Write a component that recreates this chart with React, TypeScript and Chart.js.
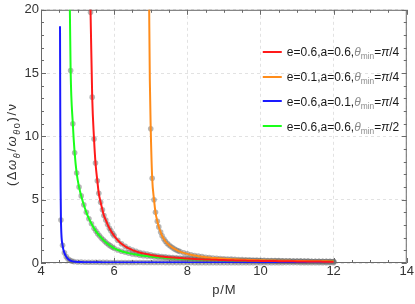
import React, { useEffect, useRef } from "react";
import { Chart, registerables } from "chart.js";

Chart.register(...registerables);

const FONT = "'Liberation Sans', Arial, sans-serif";

const X_MIN = 4;
const X_MAX = 14;
const Y_MIN = 0;
const Y_MAX = 20;
const X_TICKS = [4, 6, 8, 10, 12, 14];
const Y_TICKS = [0, 5, 10, 15, 20];

// shared x grid of the dense tail
const TAIL_X = [6.0, 6.1, 6.2, 6.3, 6.4, 6.5, 6.6, 6.7, 6.8, 6.9, 7.0, 7.1, 7.2, 7.3, 7.4, 7.5, 7.6, 7.7, 7.8, 7.9, 8.0, 8.1, 8.2, 8.3, 8.4, 8.5, 8.6, 8.7, 8.8, 8.9, 9.0, 9.1, 9.2, 9.3, 9.4, 9.5, 9.6, 9.7, 9.8, 9.9, 10.0, 10.1, 10.2, 10.3, 10.4, 10.5, 10.6, 10.7, 10.8, 10.9, 11.0, 11.1, 11.2, 11.3, 11.4, 11.5, 11.6, 11.7, 11.8, 11.9, 12.0];

// red: e=0.6, a=0.6, θmin=π/4
const RED_LINE_X = [5.345];
const RED_LINE_Y = [21.0];
const RED_HEAD_X = [5.355, 5.4, 5.45, 5.49, 5.54, 5.58, 5.63, 5.68, 5.72, 5.77, 5.82, 5.87, 5.91, 5.96];
const RED_HEAD_Y = [19.8, 13.1, 9.8, 7.9, 6.5, 5.5, 4.8, 4.2, 3.75, 3.4, 3.05, 2.75, 2.55, 2.32];
const RED_TAIL_Y = [2.15, 1.8, 1.52, 1.32, 1.15, 1.02, 0.92, 0.83, 0.76, 0.7, 0.64, 0.59, 0.55, 0.51, 0.48, 0.45, 0.43, 0.41, 0.39, 0.37, 0.35, 0.335, 0.32, 0.305, 0.29, 0.28, 0.27, 0.26, 0.25, 0.24, 0.23, 0.222, 0.214, 0.207, 0.2, 0.194, 0.188, 0.182, 0.177, 0.172, 0.167, 0.162, 0.157, 0.153, 0.149, 0.145, 0.141, 0.137, 0.134, 0.131, 0.128, 0.125, 0.122, 0.119, 0.116, 0.113, 0.111, 0.108, 0.106, 0.104, 0.102];

// orange: e=0.1, a=0.6, θmin=π/4
const ORANGE_LINE_X = [6.955, 6.975];
const ORANGE_LINE_Y = [20.8, 14.5];
const ORANGE_HEAD_X = [7.0, 7.04, 7.09, 7.13, 7.18, 7.22, 7.27, 7.31, 7.36, 7.4, 7.45, 7.5, 7.55, 7.6, 7.65, 7.7, 7.75];
const ORANGE_HEAD_Y = [10.6, 6.7, 5.0, 4.0, 3.3, 2.85, 2.45, 2.15, 1.9, 1.72, 1.55, 1.42, 1.3, 1.2, 1.11, 1.03, 0.96];
const ORANGE_TAIL_Y = [0.9, 0.8, 0.72, 0.65, 0.59, 0.54, 0.5, 0.46, 0.43, 0.4, 0.38, 0.36, 0.34, 0.32, 0.305, 0.29, 0.277, 0.265, 0.254, 0.244, 0.235, 0.226, 0.218, 0.21, 0.203, 0.196, 0.19, 0.184, 0.178, 0.173, 0.168, 0.163, 0.158, 0.154, 0.15, 0.146, 0.142, 0.139, 0.136, 0.133, 0.13, 0.127, 0.124];

// blue: e=0.6, a=0.1, θmin=π/4
const BLUE_LINE_X = [4.52, 4.527, 4.536];
const BLUE_LINE_Y = [18.7, 11.5, 6.0];
const BLUE_HEAD_X = [4.545, 4.59, 4.64, 4.69, 4.74, 4.79, 4.84, 4.9, 5.0, 5.1, 5.2, 5.3, 5.4, 5.5, 5.6, 5.7, 5.8, 5.9];
const BLUE_HEAD_Y = [3.4, 1.4, 0.8, 0.5, 0.32, 0.21, 0.15, 0.11, 0.08, 0.07, 0.065, 0.06, 0.057, 0.054, 0.051, 0.049, 0.047, 0.045];
const BLUE_TAIL_Y = [0.044, 0.043, 0.042, 0.041, 0.04, 0.039, 0.038, 0.037, 0.036, 0.036, 0.035, 0.034, 0.034, 0.033, 0.032, 0.032, 0.031, 0.031, 0.03, 0.03, 0.029, 0.029, 0.028, 0.028, 0.027, 0.027, 0.027, 0.026, 0.026, 0.026, 0.025, 0.025, 0.025, 0.024, 0.024, 0.024, 0.023, 0.023, 0.023, 0.023, 0.022, 0.022, 0.022, 0.021, 0.021, 0.021, 0.021, 0.02, 0.02, 0.02, 0.02, 0.019, 0.019, 0.019, 0.019, 0.019, 0.018, 0.018, 0.018, 0.018, 0.018];

// green: e=0.6, a=0.6, θmin=π/2
const GREEN_LINE_X = [4.787];
const GREEN_LINE_Y = [20.6];
const GREEN_HEAD_X = [4.81, 4.87, 4.92, 4.975, 5.04, 5.1, 5.17, 5.24, 5.31, 5.38, 5.45, 5.5, 5.55, 5.6, 5.65, 5.7, 5.75, 5.8, 5.85, 5.9, 5.95];
const GREEN_HEAD_Y = [15.2, 11.0, 8.7, 7.1, 6.0, 5.3, 4.6, 4.0, 3.5, 3.1, 2.75, 2.52, 2.32, 2.15, 1.98, 1.83, 1.69, 1.56, 1.45, 1.35, 1.25];
const GREEN_TAIL_Y = [1.16, 1.03, 0.93, 0.85, 0.78, 0.72, 0.67, 0.62, 0.58, 0.545, 0.51, 0.48, 0.455, 0.43, 0.41, 0.39, 0.37, 0.355, 0.34, 0.325, 0.31, 0.3, 0.29, 0.28, 0.27, 0.26, 0.25, 0.242, 0.234, 0.227, 0.22, 0.213, 0.207, 0.201, 0.195, 0.19, 0.185, 0.18, 0.175, 0.171, 0.167, 0.163, 0.159, 0.155, 0.151, 0.148, 0.145, 0.142, 0.139, 0.136, 0.133, 0.13, 0.127, 0.125, 0.122, 0.12, 0.118, 0.116, 0.114, 0.112, 0.11];

const LEGEND_E = ["0.6", "0.1", "0.6", "0.6"];
const LEGEND_A = ["0.6", "0.6", "0.1", "0.6"];
const LEGEND_THETA = ["4", "4", "4", "2"];

const CURVES = [
  { color: "#ff1a1a", lx: RED_LINE_X, ly: RED_LINE_Y, hx: RED_HEAD_X, hy: RED_HEAD_Y, ty: RED_TAIL_Y },
  { color: "#ff8c1a", lx: ORANGE_LINE_X, ly: ORANGE_LINE_Y, hx: ORANGE_HEAD_X, hy: ORANGE_HEAD_Y, ty: ORANGE_TAIL_Y },
  { color: "#1a1aff", lx: BLUE_LINE_X, ly: BLUE_LINE_Y, hx: BLUE_HEAD_X, hy: BLUE_HEAD_Y, ty: BLUE_TAIL_Y },
  { color: "#1aff1a", lx: GREEN_LINE_X, ly: GREEN_LINE_Y, hx: GREEN_HEAD_X, hy: GREEN_HEAD_Y, ty: GREEN_TAIL_Y },
];

const pts = (xs: number[], ys: number[]) => xs.map((x, i) => ({ x, y: ys[i] }));

type Seg = { t: string; it?: boolean; sub?: boolean; c?: string };

function richWidth(ctx: CanvasRenderingContext2D, segs: Seg[], size: number, spacing: number) {
  let w = 0;
  for (const s of segs) {
    const fs = s.sub ? size * 0.7 : size;
    ctx.font = `${s.it ? "italic " : ""}${fs}px ${FONT}`;
    for (const ch of s.t) w += ctx.measureText(ch).width + spacing;
  }
  return w - spacing;
}

function drawRich(ctx: CanvasRenderingContext2D, segs: Seg[], x: number, y: number, size: number, spacing: number, color: string) {
  let cx = x;
  ctx.textBaseline = "alphabetic";
  ctx.textAlign = "left";
  for (const s of segs) {
    const fs = s.sub ? size * 0.7 : size;
    ctx.font = `${s.it ? "italic " : ""}${fs}px ${FONT}`;
    ctx.fillStyle = s.c || color;
    const dy = s.sub ? size * 0.28 : 0;
    for (const ch of s.t) {
      ctx.fillText(ch, cx, y + dy);
      cx += ctx.measureText(ch).width + spacing;
    }
  }
}

const framePlugin = {
  id: "frame",
  beforeDatasetsDraw(chart: any) {
    const { ctx, chartArea: a, scales } = chart;
    const xs = scales.x;
    const ys = scales.y;
    ctx.save();
    ctx.strokeStyle = "#6a6a6a";
    ctx.lineWidth = 1;
    ctx.strokeRect(a.left + 0.5, a.top + 0.5, a.right - a.left - 1, a.bottom - a.top - 1);
    ctx.beginPath();
    for (let k = 0; k <= (X_MAX - X_MIN) * 2; k++) {
      const v = X_MIN + k * 0.5;
      const px = Math.round(xs.getPixelForValue(v)) + 0.5;
      const len = k % 4 === 0 ? 5 : 3;
      ctx.moveTo(px, a.bottom);
      ctx.lineTo(px, a.bottom - len);
      ctx.moveTo(px, a.top);
      ctx.lineTo(px, a.top + len);
    }
    for (let k = 0; k <= Y_MAX - Y_MIN; k++) {
      const v = Y_MIN + k;
      const py = Math.round(ys.getPixelForValue(v)) + 0.5;
      const len = k % 5 === 0 ? 5 : 3;
      ctx.moveTo(a.left, py);
      ctx.lineTo(a.left + len, py);
      ctx.moveTo(a.right, py);
      ctx.lineTo(a.right - len, py);
    }
    ctx.stroke();
    ctx.restore();
  },
  afterDraw(chart: any) {
    const { ctx, chartArea: a } = chart;
    ctx.save();
    // legend
    CURVES.forEach((c, i) => {
      const cy = a.top + 42 + i * 24.8;
      const lx = a.right - 144;
      ctx.strokeStyle = c.color;
      ctx.lineWidth = 2;
      ctx.beginPath();
      ctx.moveTo(lx, Math.round(cy));
      ctx.lineTo(lx + 19, Math.round(cy));
      ctx.stroke();
      const segs: Seg[] = [
        { t: `e=${LEGEND_E[i]},a=${LEGEND_A[i]},` },
        { t: "θ", it: true, c: "#8a8a8a" },
        { t: "min", sub: true, c: "#8a8a8a" },
        { t: "=" },
        { t: "π", it: true },
        { t: `/${LEGEND_THETA[i]}` },
      ];
      drawRich(ctx, segs, a.right - 120, cy + 4.3, 12, 0, "#1a1a1a");
    });
    // x title
    const xt: Seg[] = [{ t: "p/M" }];
    const xw = richWidth(ctx, xt, 13, 0.8);
    drawRich(ctx, xt, (a.left + a.right) / 2 - xw / 2, 294, 13, 0.8, "#333");
    // y title
    const yt: Seg[] = [
      { t: "(Δ" },
      { t: "ω", it: true },
      { t: "θ", it: true, sub: true },
      { t: "/" },
      { t: "ω", it: true },
      { t: "θ", it: true, sub: true },
      { t: "0", sub: true },
      { t: ")/" },
      { t: "ν" },
    ];
    const yw = richWidth(ctx, yt, 13, 1.6);
    ctx.translate(16, 145);
    ctx.rotate(-Math.PI / 2);
    drawRich(ctx, yt, -yw / 2, 0, 13, 1.6, "#333");
    ctx.restore();
  },
};

export default function App() {
  const ref = useRef<HTMLCanvasElement>(null);
  useEffect(() => {
    document.body.style.margin = "0";
    const lineSets = CURVES.map((c) => ({
      data: [...pts(c.lx, c.ly), ...pts(c.hx, c.hy), ...pts(TAIL_X.slice(TAIL_X.length - c.ty.length), c.ty)],
      showLine: true,
      borderColor: c.color,
      borderWidth: 2,
      pointRadius: 0,
      cubicInterpolationMode: "monotone" as const,
      fill: false,
      order: 0,
    }));
    const dotSets = CURVES.map((c) => ({
      data: [...pts(c.hx, c.hy), ...pts(TAIL_X.slice(TAIL_X.length - c.ty.length), c.ty)],
      showLine: false,
      pointRadius: 2.8,
      pointBorderWidth: 0,
      pointBackgroundColor: "rgba(110,110,110,0.5)",
      pointHoverRadius: 0,
      clip: 4,
      order: 1,
    }));
    const chart = new Chart(ref.current!, {
      type: "scatter",
      data: { datasets: [...lineSets, ...dotSets] as any },
      options: {
        responsive: false,
        animation: false,
        devicePixelRatio: 1,
        layout: { padding: { top: 7, right: 8, left: 0, bottom: 0 } },
        plugins: { legend: { display: false }, tooltip: { enabled: false } },
        events: [],
        scales: {
          x: {
            type: "linear",
            min: X_MIN,
            max: X_MAX,
            afterBuildTicks: (s: any) => {
              s.ticks = X_TICKS.map((v) => ({ value: v }));
            },
            afterFit: (s: any) => {
              s.height = 41;
            },
            ticks: { font: { family: FONT, size: 13 }, color: "#333", padding: 1, maxRotation: 0 },
            grid: { color: "#e2e2e2", drawTicks: false },
            border: { display: false, dash: [3, 3] },
          },
          y: {
            type: "linear",
            min: Y_MIN,
            max: Y_MAX,
            afterBuildTicks: (s: any) => {
              s.ticks = Y_TICKS.map((v) => ({ value: v }));
            },
            afterFit: (s: any) => {
              s.width = 41;
            },
            ticks: { font: { family: FONT, size: 13 }, color: "#333", padding: 2 },
            grid: { color: "#e2e2e2", drawTicks: false },
            border: { display: false, dash: [3, 3] },
          },
        },
      },
      plugins: [framePlugin],
    });
    return () => chart.destroy();
  }, []);
  return (
    <div style={{ width: 415, height: 304 }}>
      <canvas ref={ref} width={415} height={304} style={{ display: "block" }} />
    </div>
  );
}
